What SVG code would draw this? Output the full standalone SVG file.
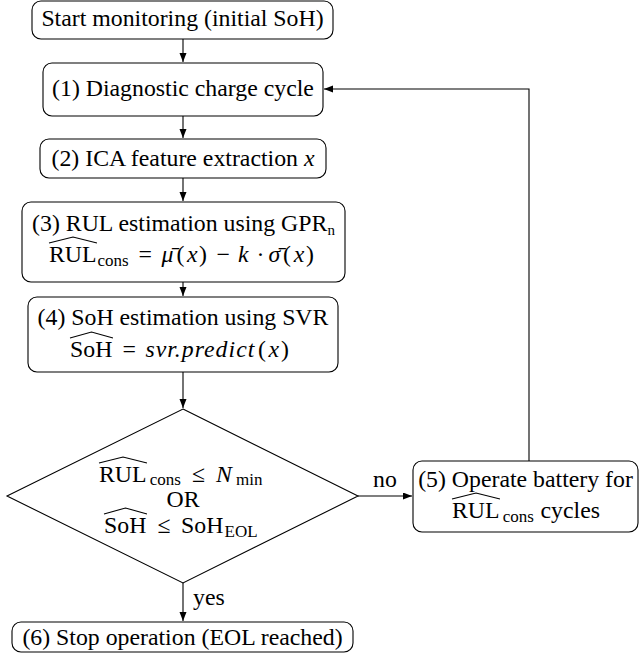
<svg xmlns="http://www.w3.org/2000/svg" width="640" height="664" viewBox="0 0 640 664" font-family="'Liberation Serif', 'DejaVu Serif', serif">
<style>
.box{fill:#fff;stroke:#000;stroke-width:1.1}
.edge{fill:none;stroke:#000;stroke-width:1.1}
.t{font-family:'Liberation Serif','DejaVu Serif',serif;font-size:23.8px;fill:#000}
.c{text-anchor:middle}
.i{font-style:italic}
.sub{font-size:17px}
.hat{fill:none;stroke:#000;stroke-width:1.1;stroke-linejoin:miter}
</style>
<defs>
<marker id="arr" markerUnits="userSpaceOnUse" markerWidth="10" markerHeight="8" refX="9" refY="3.5" orient="auto">
<path d="M0,0 L9,3.5 L0,7 Z" fill="#000"/>
</marker>
</defs>
<rect width="640" height="664" fill="#fff"/>

<g id="connectors">
<path class="edge" d="M183,39 V62" marker-end="url(#arr)"/>
<path class="edge" d="M183,116 V138" marker-end="url(#arr)"/>
<path class="edge" d="M183,178 V201" marker-end="url(#arr)"/>
<path class="edge" d="M183,282 V296" marker-end="url(#arr)"/>
<path class="edge" d="M183,372 V408" marker-end="url(#arr)"/>
<path class="edge" d="M183,583 V621" marker-end="url(#arr)"/>
<path class="edge" d="M358,496 H412" marker-end="url(#arr)"/>
<path class="edge" d="M529,461 V89 H324" marker-end="url(#arr)"/>
<text class="t" x="193" y="605">yes</text>
<text class="t" x="373" y="487">no</text>
</g>

<g id="start">
<rect class="box" x="32" y="1" width="301" height="38" rx="9"/>
<text class="t c" x="182.5" y="26">Start monitoring (initial SoH)</text>
</g>

<g id="step1">
<rect class="box" x="43" y="63" width="280" height="53" rx="9"/>
<text class="t c" x="183" y="96">(1) Diagnostic charge cycle</text>
</g>

<g id="step2">
<rect class="box" x="40" y="139" width="286" height="39" rx="9"/>
<text class="t c" x="183" y="166">(2) ICA feature extraction <tspan class="i">x</tspan></text>
</g>

<g id="step3">
<rect class="box" x="22" y="202" width="323" height="80" rx="9"/>
<text class="t c" x="183.5" y="231">(3) RUL estimation using GPR<tspan font-size="15" dy="4">n</tspan></text>
<text class="t"><tspan x="49" y="262">RUL</tspan><tspan class="sub" x="97.5" y="266">cons</tspan><tspan x="138.5" y="262">=</tspan><tspan class="i" x="161.5" y="262">μ̄</tspan><tspan x="176.5" y="262">(</tspan><tspan class="i" x="187" y="262">x</tspan><tspan x="199" y="262">)</tspan><tspan x="216.5" y="262">−</tspan><tspan class="i" x="238" y="262">k</tspan><tspan x="256.5" y="262">·</tspan><tspan class="i" x="268.5" y="262">σ̄</tspan><tspan x="283" y="262">(</tspan><tspan class="i" x="293.7" y="262">x</tspan><tspan x="306" y="262">)</tspan></text>
<path class="hat" d="M49,243 L73,237 L97,243"/>
</g>

<g id="step4">
<rect class="box" x="28" y="297" width="310" height="75" rx="9"/>
<text class="t c" x="183" y="325">(4) SoH estimation using SVR</text>
<text class="t"><tspan x="70" y="357">SoH</tspan><tspan x="122.6" y="357">=</tspan><tspan class="i" x="145.4" y="357" letter-spacing="1">svr.predict</tspan><tspan x="258" y="357">(</tspan><tspan class="i" x="268.5" y="357">x</tspan><tspan x="281" y="357">)</tspan></text>
<path class="hat" d="M70,338 L91.5,332 L113,338"/>
</g>

<g id="decision">
<polygon class="box" points="183,409 358,496 183,583 7,496"/>
<text class="t"><tspan x="99" y="482">RUL</tspan><tspan class="sub" x="149.7" y="485">cons</tspan><tspan x="192" y="482">≤</tspan><tspan class="i" x="216" y="482">N</tspan><tspan class="sub" x="236" y="485">min</tspan></text>
<path class="hat" d="M99,463 L123,457 L147,463"/>
<text class="t c" x="183" y="507">OR</text>
<text class="t"><tspan x="104" y="533">SoH</tspan><tspan x="157.5" y="533">≤</tspan><tspan x="181" y="533">SoH</tspan><tspan class="sub" x="224.5" y="537">EOL</tspan></text>
<path class="hat" d="M104,514 L125.5,508 L147,514"/>
</g>

<g id="step5">
<rect class="box" x="413" y="461" width="225" height="71" rx="9"/>
<text class="t c" x="525.5" y="487">(5) Operate battery for</text>
<text class="t"><tspan x="452" y="518">RUL</tspan><tspan class="sub" x="502.7" y="522">cons</tspan><tspan x="540.5" y="518">cycles</tspan></text>
<path class="hat" d="M452,499 L476,493 L500,499"/>
</g>

<g id="step6">
<rect class="box" x="12" y="622" width="341" height="30" rx="9"/>
<text class="t c" x="182.5" y="645">(6) Stop operation (EOL reached)</text>
</g>
</svg>
